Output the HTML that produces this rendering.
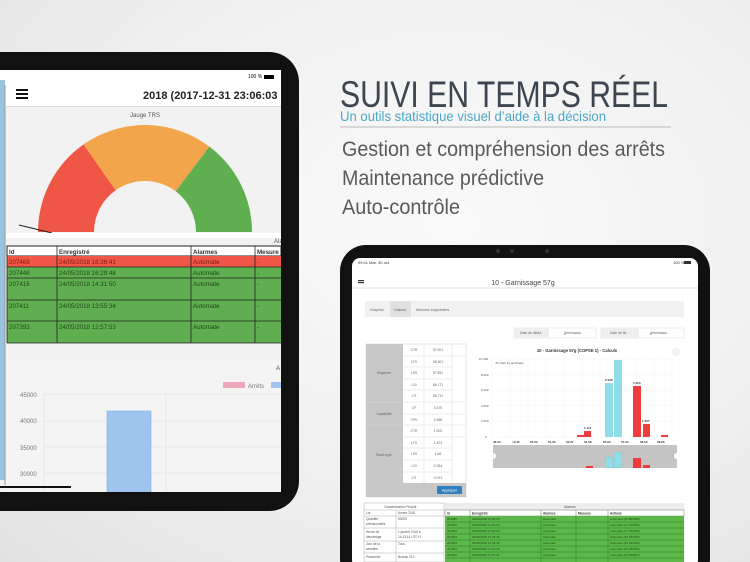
<!DOCTYPE html>
<html><head><meta charset="utf-8"><style>
html,body{margin:0;padding:0;width:750px;height:562px;overflow:hidden;background:radial-gradient(ellipse at 60% 40%,#fafafa 0%,#f0f0f0 55%,#e2e2e2 100%);font-family:"Liberation Sans",sans-serif}
</style></head><body>
<svg width="750" height="562" viewBox="0 0 750 562" xmlns="http://www.w3.org/2000/svg" font-family="Liberation Sans, sans-serif">
<defs><clipPath id="ls"><rect x="-20" y="70" width="301" height="422"/></clipPath></defs>
<!-- right text -->
<text x="340" y="107" font-size="37" fill="#3d4650" textLength="328" lengthAdjust="spacingAndGlyphs">SUIVI EN TEMPS RÉEL</text>
<text x="340" y="121" font-size="14" fill="#4aa8c8" textLength="266" lengthAdjust="spacingAndGlyphs">Un outils statistique visuel d’aide à la décision</text>
<line x1="340" y1="127" x2="671" y2="127" stroke="#bbb" stroke-width="1"/>
<text x="342" y="156" font-size="21" fill="#5a5a5a" textLength="323" lengthAdjust="spacingAndGlyphs">Gestion et compréhension des arrêts</text>
<text x="342" y="185" font-size="21" fill="#5a5a5a" textLength="202" lengthAdjust="spacingAndGlyphs">Maintenance prédictive</text>
<text x="342" y="214" font-size="21" fill="#5a5a5a" textLength="118" lengthAdjust="spacingAndGlyphs">Auto-contrôle</text>

<!-- LEFT IPAD -->
<rect x="-40" y="52" width="339" height="459" rx="30" fill="#111"/>
<g clip-path="url(#ls)">
<rect x="-20" y="70" width="301" height="422" fill="#f2f2f2"/>
<rect x="0" y="70" width="281" height="37" fill="#fff"/>
<text x="248" y="78" font-size="5" fill="#000">100 %</text>
<rect x="264" y="75" width="10" height="4" fill="#000"/>
<rect x="0" y="80" width="5" height="400" fill="#9ac3de"/>
<line x1="5" y1="85" x2="5" y2="485" stroke="#999" stroke-width="1"/>
<rect x="16" y="89" width="12" height="2" fill="#111"/><rect x="16" y="93" width="12" height="2" fill="#111"/><rect x="16" y="97" width="12" height="2" fill="#111"/>
<text x="143" y="99" font-size="11" font-weight="bold" fill="#222">2018 (2017-12-31 23:06:03 +00</text>
<line x1="6" y1="106.5" x2="281" y2="106.5" stroke="#ddd"/>
<text x="145" y="117" font-size="6" fill="#555" text-anchor="middle">Jauge TRS</text>
<text x="144" y="135" font-size="6" fill="#555" text-anchor="middle">7 %</text>
<path d="M38,232 A107,107 0 0 1 83.6,144.4 L115.7,190.2 A51,51 0 0 0 94,232 Z" fill="#ef5646"/>
<path d="M83.6,144.4 A107,107 0 0 1 209.4,146.6 L175.7,191.3 A51,51 0 0 0 115.7,190.2 Z" fill="#f3a54b"/>
<path d="M209.4,146.6 A107,107 0 0 1 252,232 L196,232 A51,51 0 0 0 175.7,191.3 Z" fill="#5fae4f"/>
<line x1="19" y1="225" x2="52" y2="233" stroke="#222" stroke-width="1"/>
<rect x="6" y="233" width="275" height="5" fill="#fff"/>
<g font-size="6.2" fill="#333">
<rect x="7" y="246" width="274" height="10" fill="#fff" stroke="#222"/>
<rect x="7" y="256" width="274" height="11" fill="#ef5646"/>
<rect x="7" y="267" width="274" height="76" fill="#5fae4f"/>
<g stroke="#222" stroke-width="0.8" fill="none">
<line x1="7" y1="267" x2="281" y2="267"/><line x1="7" y1="278" x2="281" y2="278"/><line x1="7" y1="300" x2="281" y2="300"/><line x1="7" y1="321" x2="281" y2="321"/><line x1="7" y1="343" x2="281" y2="343"/>
<line x1="7" y1="246" x2="7" y2="343"/><line x1="57" y1="246" x2="57" y2="343"/><line x1="191" y1="246" x2="191" y2="343"/><line x1="255" y1="246" x2="255" y2="343"/>
</g>
<text x="274" y="243" font-size="6" fill="#555">Ala</text>
<g font-weight="bold" fill="#333"><text x="9" y="254">Id</text><text x="59" y="254">Enregistré</text><text x="193" y="254">Alarmes</text><text x="257" y="254">Mesure</text></g>
<g fill="#7a1b10"><text x="9" y="264">207469</text><text x="59" y="264">24/05/2018 18:36:41</text><text x="193" y="264">Automate</text><text x="257" y="264">-</text></g>
<g fill="#1f4a18"><text x="9" y="275">207448</text><text x="59" y="275">24/05/2018 16:29:48</text><text x="193" y="275">Automate</text><text x="257" y="275">-</text>
<text x="9" y="286">207416</text><text x="59" y="286">24/05/2018 14:31:50</text><text x="193" y="286">Automate</text><text x="257" y="286">-</text>
<text x="9" y="308">207411</text><text x="59" y="308">24/05/2018 13:55:34</text><text x="193" y="308">Automate</text><text x="257" y="308">-</text>
<text x="9" y="329">207393</text><text x="59" y="329">24/05/2018 12:57:53</text><text x="193" y="329">Automate</text><text x="257" y="329">-</text></g>
</g>
<rect x="6" y="360" width="275" height="132" fill="#f4f4f4"/>
<text x="276" y="370" font-size="6" fill="#555">A</text>
<rect x="223" y="382" width="22" height="6" fill="#eea9bd"/><text x="248" y="388" font-size="6" fill="#777">Arrêts</text>
<rect x="271" y="382" width="10" height="6" fill="#9fc5ee"/>
<g stroke="#ddd" stroke-width="0.6"><line x1="44" y1="394" x2="281" y2="394"/><line x1="44" y1="421" x2="281" y2="421"/><line x1="44" y1="447" x2="281" y2="447"/><line x1="44" y1="473" x2="281" y2="473"/><line x1="44" y1="394" x2="44" y2="492"/><line x1="166" y1="394" x2="166" y2="492"/></g>
<g font-size="6" fill="#777"><text x="20" y="397">45000</text><text x="20" y="423">40000</text><text x="20" y="450">35000</text><text x="20" y="476">30000</text></g>
<rect x="107" y="411" width="44" height="81" fill="#9fc5ee" stroke="#7fb0e4" stroke-width="0.6"/>
<rect x="0" y="486" width="71" height="2" fill="#111"/>
</g>

<!-- RIGHT IPAD -->
<rect x="340" y="245" width="370" height="340" rx="26" fill="#111"/>
<rect x="352" y="258" width="346" height="310" rx="8" fill="#fff"/>
<circle cx="498" cy="251" r="2" fill="#333"/><circle cx="512" cy="251" r="2" fill="#333"/><circle cx="547" cy="251" r="2" fill="#333"/>
<text x="358" y="264" font-size="4" fill="#333">09:41  Mar. 30 oct.</text>
<text x="673" y="264" font-size="4" fill="#333">100 %</text><rect x="684" y="261" width="7" height="3" fill="#333"/>
<rect x="358" y="280" width="6" height="1.2" fill="#333"/><rect x="358" y="282" width="6" height="1.2" fill="#333"/>
<text x="523" y="285" font-size="7" fill="#444" text-anchor="middle">10 - Garnissage 57g</text>
<line x1="352" y1="288" x2="698" y2="288" stroke="#ddd"/>
<rect x="365" y="301" width="319" height="16" fill="#f1f1f1"/>
<rect x="390" y="301" width="21" height="16" fill="#e0e0e0"/>
<g font-size="3.6" fill="#666"><text x="370" y="311">Graphes</text><text x="394" y="311">Calculs</text><text x="416" y="311">Mesures supprimées</text></g>
<rect x="514" y="328" width="82" height="10" fill="#fff" stroke="#ddd" stroke-width="0.5"/><rect x="514" y="328" width="35" height="10" fill="#eee"/>
<rect x="601" y="328" width="83" height="10" fill="#fff" stroke="#ddd" stroke-width="0.5"/><rect x="601" y="328" width="38" height="10" fill="#eee"/>
<g font-size="3.4" fill="#666"><text x="520" y="334">Date de début</text><text x="564" y="334">jj/mm/aaaa</text><text x="610" y="334">Date de fin</text><text x="650" y="334">jj/mm/aaaa</text></g>
<rect x="366" y="344" width="100" height="153" fill="#fff" stroke="#ccc" stroke-width="0.5"/>
<rect x="366" y="344" width="37" height="153" fill="#c7c7c7"/>
<rect x="366" y="483" width="100" height="14" fill="#c7c7c7"/>
<g stroke="#ddd" stroke-width="0.5">
<line x1="366" y1="402" x2="466" y2="402"/><line x1="366" y1="425" x2="466" y2="425"/>
<line x1="403" y1="356" x2="466" y2="356"/><line x1="403" y1="367" x2="452" y2="367"/><line x1="403" y1="379" x2="452" y2="379"/><line x1="403" y1="390" x2="452" y2="390"/><line x1="403" y1="414" x2="466" y2="414"/><line x1="403" y1="437" x2="466" y2="437"/><line x1="403" y1="448" x2="452" y2="448"/><line x1="403" y1="460" x2="452" y2="460"/><line x1="403" y1="472" x2="452" y2="472"/>
<line x1="424" y1="344" x2="424" y2="483"/><line x1="452" y1="344" x2="452" y2="483"/></g>
<g font-size="3.4" fill="#666" text-anchor="middle"><text x="384" y="374">Moyenne</text><text x="384" y="415">Capabilité</text><text x="384" y="456">Écart-type</text>
<text x="414" y="351">CTR</text><text x="438" y="351">57.001</text><text x="414" y="363">LTS</text><text x="438" y="363">58.301</text><text x="414" y="374">LSS</text><text x="438" y="374">57.891</text><text x="414" y="386">LSI</text><text x="438" y="386">56.171</text><text x="414" y="397">LTI</text><text x="438" y="397">55.711</text>
<text x="414" y="409">CP</text><text x="438" y="409">0.475</text><text x="414" y="421">CPK</text><text x="438" y="421">0.465</text>
<text x="414" y="432">CTR</text><text x="438" y="432">1.002</text><text x="414" y="444">LTS</text><text x="438" y="444">1.674</text><text x="414" y="455">LSS</text><text x="438" y="455">1.66</text><text x="414" y="467">LSI</text><text x="438" y="467">0.354</text><text x="414" y="479">LTI</text><text x="438" y="479">0.021</text></g>
<rect x="437" y="486" width="25" height="8" rx="1" fill="#2f7fc1"/><text x="449.5" y="491.5" font-size="3.6" fill="#fff" text-anchor="middle">Appliquer</text>
<text x="577" y="352" font-size="4.2" font-weight="bold" fill="#333" text-anchor="middle">10 - Garnissage 57g (COPSE 1) - Calculs</text>
<circle cx="676" cy="352" r="4" fill="#f3f3f3"/>
<rect x="492" y="359" width="180" height="78" fill="#fff" stroke="#eee" stroke-width="0.4"/>
<g stroke="#eee" stroke-width="0.4"><line x1="492" y1="374" x2="672" y2="374"/><line x1="492" y1="390" x2="672" y2="390"/><line x1="492" y1="405" x2="672" y2="405"/><line x1="492" y1="421" x2="672" y2="421"/>
<line x1="510" y1="359" x2="510" y2="437"/><line x1="528" y1="359" x2="528" y2="437"/><line x1="546" y1="359" x2="546" y2="437"/><line x1="564" y1="359" x2="564" y2="437"/><line x1="582" y1="359" x2="582" y2="437"/><line x1="600" y1="359" x2="600" y2="437"/><line x1="618" y1="359" x2="618" y2="437"/><line x1="636" y1="359" x2="636" y2="437"/><line x1="654" y1="359" x2="654" y2="437"/></g>
<g font-size="3" fill="#555"><text x="479" y="360">10 000</text><text x="481" y="376">8 000</text><text x="481" y="391">6 000</text><text x="481" y="407">4 000</text><text x="481" y="422">2 000</text><text x="485" y="438">0</text><text x="495" y="364">JS chart by amCharts</text></g>
<rect x="577" y="435" width="7" height="2" fill="#ef3b3b"/>
<rect x="584" y="431" width="7" height="6" fill="#ef3b3b"/>
<rect x="605" y="383" width="8" height="54" fill="#8fdde6"/>
<rect x="614" y="360" width="8" height="77" fill="#8fdde6"/>
<rect x="633" y="386" width="8" height="51" fill="#ef3b3b"/>
<rect x="643" y="424" width="7" height="13" fill="#ef3b3b"/>
<rect x="661" y="435" width="7" height="2" fill="#ef3b3b"/>
<g font-size="3" fill="#333" font-weight="bold"><text x="493" y="443">46.00</text><text x="512" y="443">+0.32</text><text x="530" y="443">50.63</text><text x="548" y="443">51.95</text><text x="566" y="443">53.27</text><text x="584" y="443">54.58</text><text x="603" y="443">55.90</text><text x="621" y="443">57.22</text><text x="640" y="443">58.53</text><text x="657" y="443">59.85</text>
<text x="605" y="381">6 538</text><text x="633" y="384">5 323</text><text x="642" y="422">1 567</text><text x="584" y="429">1 112</text></g>
<rect x="493" y="445" width="184" height="23" fill="#c4c4c4"/>
<circle cx="493" cy="456" r="3" fill="#fff"/><circle cx="677" cy="456" r="3" fill="#fff"/>
<rect x="605" y="457" width="8" height="11" fill="#8fdde6" stroke="#aaa" stroke-width="0.3"/><rect x="614" y="452" width="8" height="16" fill="#8fdde6" stroke="#aaa" stroke-width="0.3"/>
<rect x="633" y="458" width="8" height="10" fill="#ef3b3b"/><rect x="643" y="465" width="7" height="3" fill="#ef3b3b"/><rect x="586" y="466" width="7" height="2" fill="#ef3b3b"/>
<rect x="364" y="503" width="80" height="59" fill="#fff" stroke="#999" stroke-width="0.4"/>
<g stroke="#999" stroke-width="0.4"><line x1="364" y1="510" x2="444" y2="510"/><line x1="364" y1="516" x2="444" y2="516"/><line x1="364" y1="528" x2="444" y2="528"/><line x1="364" y1="541" x2="444" y2="541"/><line x1="364" y1="553" x2="444" y2="553"/><line x1="396" y1="510" x2="396" y2="562"/></g>
<g font-size="3.2" fill="#555"><text x="384" y="508">Caractérisation Produit</text><text x="366" y="514">Lot</text><text x="398" y="514">Année 2018</text><text x="366" y="520">Quantité</text><text x="366" y="525">prévisionnelle</text><text x="398" y="520">50000</text><text x="366" y="533">Heure de</text><text x="366" y="538">démarrage</text><text x="398" y="533">1 janvier 2018 à</text><text x="398" y="538">14:13:14 UTC+1</text><text x="366" y="545">Jour de la</text><text x="366" y="550">semaine</text><text x="398" y="545">Tous</text><text x="366" y="558">Personnel</text><text x="398" y="558">Bureau 210</text></g>
<rect x="445" y="503" width="239" height="7" fill="#eee"/><text x="564" y="508" font-size="3.2" fill="#555">Alarmes</text>
<rect x="445" y="510" width="239" height="6" fill="#fff" stroke="#555" stroke-width="0.4"/>
<g font-size="3.2" fill="#333" font-weight="bold"><text x="447" y="514.5">Id</text><text x="472" y="514.5">Enregistré</text><text x="543" y="514.5">Alarmes</text><text x="578" y="514.5">Mesures</text><text x="610" y="514.5">Actions</text></g>
<rect x="445" y="516" width="239" height="46" fill="#5cb848"/>
<g stroke="#2a6a20" stroke-width="0.4"><line x1="445" y1="522" x2="684" y2="522"/><line x1="445" y1="528" x2="684" y2="528"/><line x1="445" y1="534" x2="684" y2="534"/><line x1="445" y1="540" x2="684" y2="540"/><line x1="445" y1="546" x2="684" y2="546"/><line x1="445" y1="552" x2="684" y2="552"/><line x1="445" y1="558" x2="684" y2="558"/>
<line x1="470" y1="510" x2="470" y2="562"/><line x1="541" y1="510" x2="541" y2="562"/><line x1="576" y1="510" x2="576" y2="562"/><line x1="608" y1="510" x2="608" y2="562"/></g>
<g font-size="3" fill="#1f4a18"><text x="447" y="520">201966</text><text x="472" y="520">25/05/2018 14:58:02</text><text x="543" y="520">Automate</text><text x="610" y="520">Automate (15.900000)</text>
<text x="447" y="526">201965</text><text x="472" y="526">25/05/2018 14:26:02</text><text x="543" y="526">Automate</text><text x="610" y="526">Automate (17.616666)</text>
<text x="447" y="532">201964</text><text x="472" y="532">25/05/2018 14:04:00</text><text x="543" y="532">Automate</text><text x="610" y="532">Automate (17.433333)</text>
<text x="447" y="538">201963</text><text x="472" y="538">25/05/2018 13:43:15</text><text x="543" y="538">Automate</text><text x="610" y="538">Automate (20.783333)</text>
<text x="447" y="544">201962</text><text x="472" y="544">25/05/2018 13:48:10</text><text x="543" y="544">Automate</text><text x="610" y="544">Automate (20.933334)</text>
<text x="447" y="550">201961</text><text x="472" y="550">25/05/2018 13:23:44</text><text x="543" y="550">Automate</text><text x="610" y="550">Automate (20.350000)</text>
<text x="447" y="556">201960</text><text x="472" y="556">25/05/2018 11:31:40</text><text x="543" y="556">Automate</text><text x="610" y="556">Automate (23.366667)</text></g>
</svg>
</body></html>
